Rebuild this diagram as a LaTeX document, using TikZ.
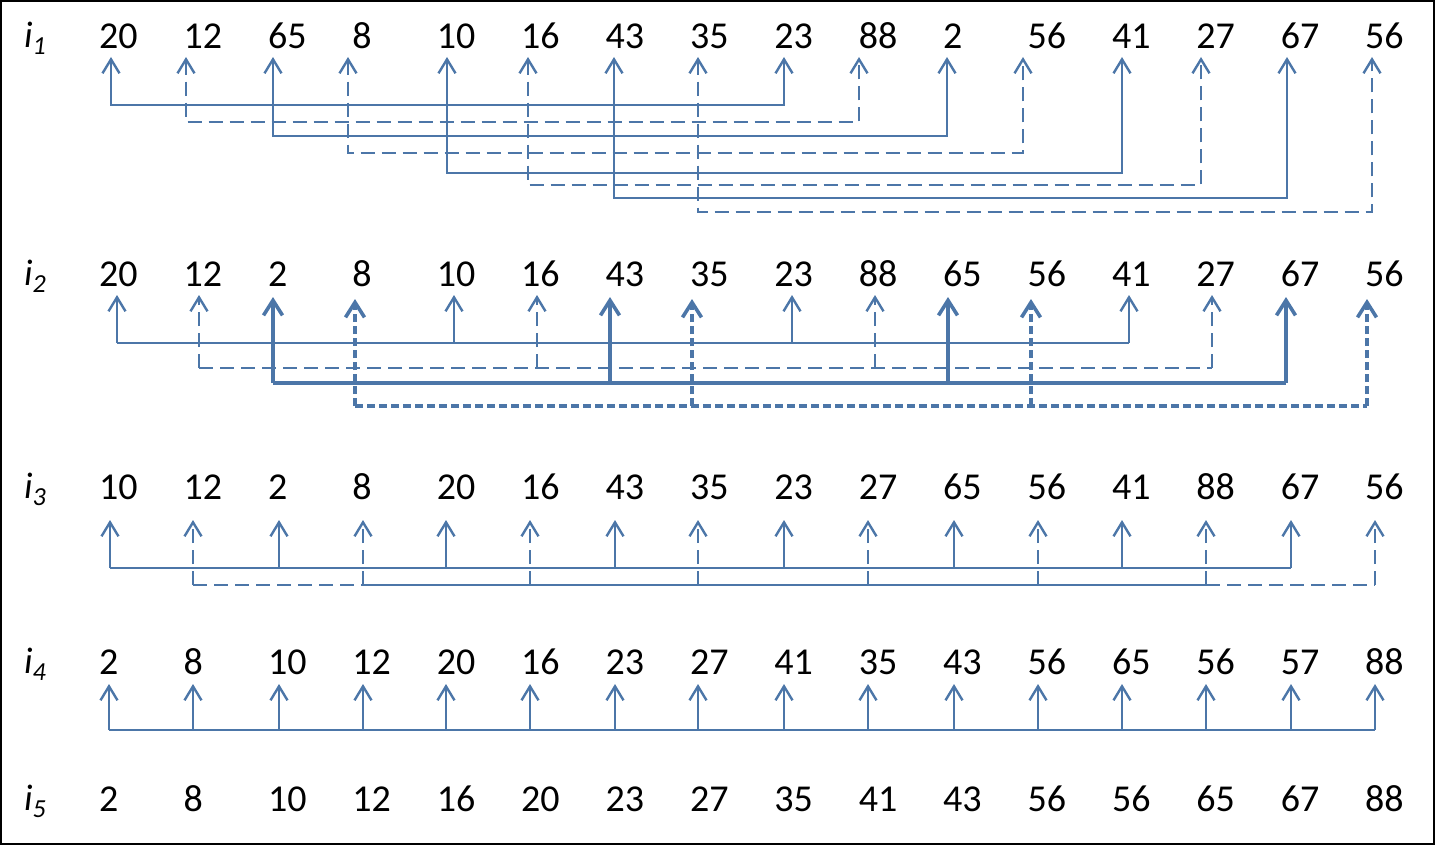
\documentclass[tikz,border=0pt]{standalone}
\usepackage{fontspec}
\setmainfont{Carlito}
\usetikzlibrary{arrows.meta}
\definecolor{ln}{RGB}{76,118,168}
\begin{document}
\begin{tikzpicture}[x=1pt,y=-1pt,
  num/.style={anchor=base west, inner sep=0pt, font=\fontsize{38}{38}\selectfont},
  lab/.style={anchor=base west, inner sep=0pt, font=\fontsize{37}{37}\selectfont\itshape},
  lnsolid/.style={draw=ln, line width=2.4pt},
  lndash/.style={draw=ln, line width=2.4pt, dash pattern=on 14pt off 7pt},
  lnbsolid/.style={draw=ln, line width=3.6pt},
  lnbdash/.style={draw=ln, line width=3.6pt, dash pattern=on 8pt off 4pt},
  tipS/.style={-{Straight Barb[length=14pt,width=17pt,line width=2.4pt]}},
  tipD/.style={{Straight Barb[length=14pt,width=17pt,line width=2.4pt]}-{Straight Barb[length=14pt,width=17pt,line width=2.4pt]}},
  tipB/.style={-{Straight Barb[length=15pt,width=19pt,line width=3.6pt]}},
]
\useasboundingbox (0,0) rectangle (1435,845);
\draw[line width=2pt] (1,1) rectangle (1434,844);

% row labels
\foreach \r/\yb in {1/48,2/285,3/498,4/673,5/810}{
  \node[lab] (lab\r) at (24,\yb) {i\raisebox{-7pt}{\fontsize{26}{26}\selectfont\itshape\r}};
}

% numbers
\foreach \v [count=\k] in {20,12,65,8,10,16,43,35,23,88,2,56,41,27,67,56}
  \node[num] (r1n\k) at ({99+84.4*(\k-1)},49) {\v};
\foreach \v [count=\k] in {20,12,2,8,10,16,43,35,23,88,65,56,41,27,67,56}
  \node[num] (r2n\k) at ({99+84.4*(\k-1)},286) {\v};
\foreach \v [count=\k] in {10,12,2,8,20,16,43,35,23,27,65,56,41,88,67,56}
  \node[num] (r3n\k) at ({99+84.4*(\k-1)},499) {\v};
\foreach \v [count=\k] in {2,8,10,12,20,16,23,27,41,35,43,56,65,56,57,88}
  \node[num] (r4n\k) at ({99+84.4*(\k-1)},674) {\v};
\foreach \v [count=\k] in {2,8,10,12,16,20,23,27,35,41,43,56,56,65,67,88}
  \node[num] (r5n\k) at ({99+84.4*(\k-1)},811) {\v};

% ---------- row 1 ----------
\foreach \x [count=\k] in {111,186,273,348,447,528,614,698,784,859,947,1023,1122,1201,1287,1372}
  \coordinate (r1t\k) at (\x,57);
\foreach \a/\b/\yl/\s in {1/9/105/lnsolid,2/10/122/lndash,3/11/136/lnsolid,4/12/153/lndash,
                          5/13/173/lnsolid,6/14/185/lndash,7/15/198/lnsolid,8/16/212/lndash}{
  \coordinate (r1b\a) at (r1t\a |- 0,\yl);
  \coordinate (r1b\b) at (r1t\b |- 0,\yl);
  \draw[\s, tipD] (r1t\a) -- (r1b\a) -- (r1b\b) -- (r1t\b);
}

% ---------- row 2 ----------
\foreach \x/\ty [count=\k] in {117/295,199/295,273/297,355/299,454/295,537/295,610/297,692/299,
                               792/295,875/295,948/297,1031/299,1129/295,1212/295,1286/297,1367/299}
  \coordinate (r2t\k) at (\x,\ty);
\foreach \k in {1,5,9,13}   \coordinate (r2b\k) at (r2t\k |- 0,343);
\foreach \k in {2,6,10,14}  \coordinate (r2b\k) at (r2t\k |- 0,368);
\foreach \k in {3,7,11,15}  \coordinate (r2b\k) at (r2t\k |- 0,383);
\foreach \k in {4,8,12,16}  \coordinate (r2b\k) at (r2t\k |- 0,406);
\draw[lnsolid] (r2b1) -- (r2b13);
\draw[lndash] (r2b2) -- (r2b14);
\draw[lnbsolid] (r2b3) -- (r2b15);
\draw[lnbdash] (r2b4) -- (r2b16);
\foreach \k in {1,5,9,13}  \draw[lnsolid, tipS] (r2b\k) -- (r2t\k);
\foreach \k in {2,6,10,14} \draw[lndash, tipS] (r2b\k) -- (r2t\k);
\foreach \k in {3,7,11,15} \draw[lnbsolid, tipB] (r2b\k) -- (r2t\k);
\foreach \k in {4,8,12,16} \draw[lnbdash, tipB] (r2b\k) -- (r2t\k);

% ---------- row 3 ----------
\foreach \x [count=\k] in {110,193,279,363,446,530,615,698,784,868,954,1038,1122,1206,1291,1375}
  \coordinate (r3t\k) at (\x,520);
\foreach \k in {1,3,...,15} \coordinate (r3b\k) at (r3t\k |- 0,568);
\foreach \k in {2,4,...,16} \coordinate (r3b\k) at (r3t\k |- 0,585);
\draw[lnsolid] (r3b1) -- (r3b15);
\draw[lndash] (r3b2) -- (r3b4);
\draw[lnsolid] (r3b4) -- (r3b14);
\draw[lndash] (r3b14) -- (r3b16);
\foreach \k in {1,3,...,15} \draw[lnsolid, tipS] (r3b\k) -- (r3t\k);
\foreach \k in {2,4,...,16} \draw[lndash, tipS] (r3b\k) -- (r3t\k);

% ---------- row 4 ----------
\foreach \x [count=\k] in {109,193,279,363,446,530,615,698,784,868,954,1038,1122,1206,1291,1375}{
  \coordinate (r4t\k) at (\x,684);
  \coordinate (r4b\k) at (\x,730);
}
\draw[lnsolid] (r4b1) -- (r4b16);
\foreach \k in {1,...,16} \draw[lnsolid, tipS] (r4b\k) -- (r4t\k);
\end{tikzpicture}
\end{document}
